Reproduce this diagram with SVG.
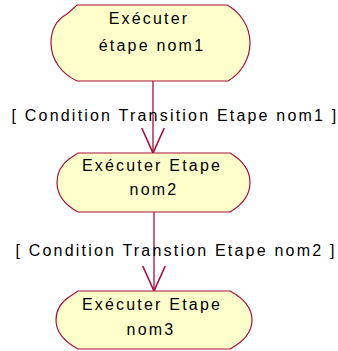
<svg xmlns="http://www.w3.org/2000/svg" width="338" height="351" viewBox="0 0 338 351">
<style>
.node path{fill:#FFFFCC;stroke:#A5103C;stroke-width:1.2}
.t{font-family:"Liberation Sans",Arial,sans-serif;font-size:16px;letter-spacing:2.2px;fill:#000;text-anchor:middle}
.edge{stroke:#A5103C;stroke-width:1.3;fill:none}
</style>
<defs>
<marker id="arr" markerUnits="userSpaceOnUse" markerWidth="30" markerHeight="30" viewBox="-22 -11 24 22" refX="0" refY="0" orient="auto" overflow="visible">
<path d="M-20,-9 L0,0 L-20,9" fill="none" stroke="#A5103C" stroke-width="1.3"/>
</marker>
</defs>
<g id="connectors">
<line class="edge" x1="153" y1="81" x2="153" y2="153" marker-end="url(#arr)"/>
<line class="edge" x1="154" y1="212" x2="154" y2="291" marker-end="url(#arr)"/>
<text class="t" x="175" y="121">[ Condition Transition Etape nom1 ]</text>
<text class="t" x="176" y="256">[ Condition Transtion Etape nom2 ]</text>
</g>
<g id="node1" class="node">
<path d="M77,5 H227 C240,12 250,26 250,43 C250,60 240,74 228,81 H77 C62,74 51,60 51,43 C51,30 56,20 67,14 Z"/>
<text class="t" x="149" y="24">Exécuter</text>
<text class="t" x="152" y="51">étape nom1</text>
</g>
<g id="node2" class="node">
<path d="M78,153 H230 C242,160 250,170 250,182.5 C250,195 242,205 230,212 H78 C65,205 57,195 57,182.5 C57,172 61,165 69,159 Z"/>
<text class="t" x="152" y="171">Exécuter Etape</text>
<text class="t" x="154" y="195">nom2</text>
</g>
<g id="node3" class="node">
<path d="M78,291 H230 C243,298 252,308 252,320 C252,332 243,342 230,349 H78 C65,342 56,332 56,320 C56,310 60,303 69,297 Z"/>
<text class="t" x="152" y="310">Exécuter Etape</text>
<text class="t" x="151" y="335">nom3</text>
</g>
</svg>
